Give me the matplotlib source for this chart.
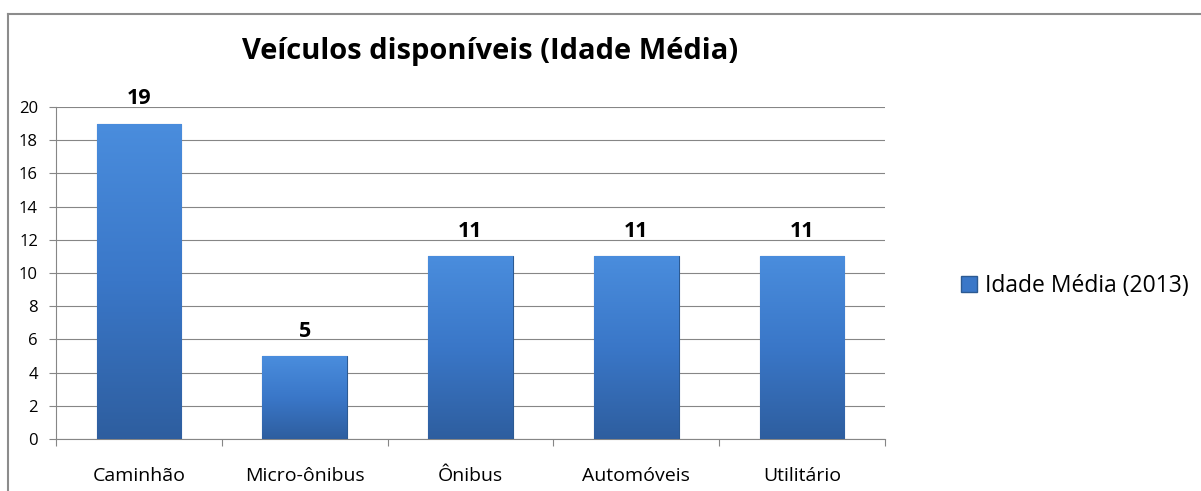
import matplotlib
matplotlib.use("Agg")
import matplotlib.pyplot as plt
import numpy as np
from matplotlib.lines import Line2D
from matplotlib.patches import Patch
from matplotlib.colors import LinearSegmentedColormap

categories = ["Caminhão", "Micro-ônibus", "Ônibus", "Automóveis", "Utilitário"]
values = [19, 5, 11, 11, 11]
series_name = "Idade Média (2013)"
title = "Veículos disponíveis (Idade Média)"
yticks = [0, 2, 4, 6, 8, 10, 12, 14, 16, 18, 20]

plt.rcParams['font.family'] = ['Open Sans', 'DejaVu Sans']

W, H = 1201, 491
fig = plt.figure(figsize=(W / 100, H / 100), dpi=100)
ax = fig.add_axes([56 / W, 1 - 439 / H, (885 - 56) / W, (439 - 107) / H])

x = np.arange(len(categories))
bars = ax.bar(x, values, width=0.51, color="#3f7fd0", edgecolor="#2c5a92", linewidth=0.8, zorder=3)

cmap = LinearSegmentedColormap.from_list("g", ["#4a8ddd", "#3a77c8", "#2e5e9f"])
grad = np.linspace(0, 1, 256).reshape(-1, 1)
for b in bars:
    x0, y0 = b.get_x(), b.get_y()
    w, h = b.get_width(), b.get_height()
    im = ax.imshow(grad, cmap=cmap, aspect="auto", extent=[x0, x0 + w, y0, y0 + h],
                   origin="upper", zorder=3.5)
    im.set_clip_path(b)

for xi, v in zip(x, values):
    ax.text(xi, v + 0.85, str(v), ha="center", va="bottom", fontsize=15.5,
            fontweight="bold", color="black", zorder=5)

ax.set_xlim(-0.5, len(categories) - 0.5)
ax.set_ylim(0, 20)
ax.set_yticks(yticks)
ax.set_xticks(np.arange(len(categories) + 1) - 0.5, minor=False)
ax.set_xticklabels([])
ax.set_xticks(x, minor=True)
ax.set_xticklabels(categories, minor=True, fontsize=14)
ax.tick_params(axis="x", which="minor", length=0, pad=20)
ax.tick_params(axis="x", which="major", length=5, color="#868686", direction="out")
ax.tick_params(axis="y", length=5, color="#868686", labelsize=12, pad=8)
ax.grid(axis="y", color="#868686", linewidth=0.8, zorder=0)
for s in ["top", "right"]:
    ax.spines[s].set_visible(False)
for s in ["left", "bottom"]:
    ax.spines[s].set_color("#868686")
    ax.spines[s].set_linewidth(0.8)

fig.text(490 / W, 1 - 52 / H, title, ha="center", va="center", fontsize=21, fontweight="bold")

leg = fig.legend(handles=[Patch(facecolor="#3a77c8", edgecolor="#2c5a92")], labels=[series_name],
                 loc="center left", bbox_to_anchor=(961 / W, 1 - 286 / H), frameon=False,
                 borderpad=0, borderaxespad=0,
                 fontsize=16.5, handlelength=0.7, handleheight=0.7, handletextpad=0.35)

# chart border
fig.add_artist(Line2D([8 / W, 1], [1 - 13.5 / H, 1 - 13.5 / H], transform=fig.transFigure,
                      color="#8c8c8c", linewidth=1.5))
fig.add_artist(Line2D([8 / W, 8 / W], [0, 1 - 13.5 / H], transform=fig.transFigure,
                      color="#8c8c8c", linewidth=1.5))

fig.savefig("out.png", dpi=100)
